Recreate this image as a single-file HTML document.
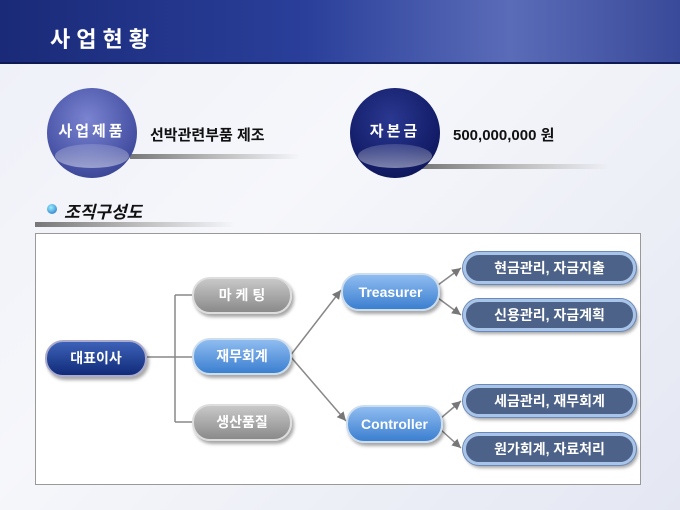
<!DOCTYPE html>
<html><head><meta charset="utf-8"><style>
body{margin:0;width:680px;height:510px;overflow:hidden;font-family:"Liberation Sans","Noto Sans CJK KR",sans-serif;background:linear-gradient(135deg,#eef0f8 0%,#f6f7fb 40%,#e4e7f2 100%);position:relative}
.a{position:absolute}
.hdr{left:0;top:0;width:680px;height:62px;background:linear-gradient(90deg,#1a2a78 0%,#2a3f9a 45%,#5a6cb8 75%,#3a4a9a 100%);border-bottom:2px solid #0e1a55}
.title{left:50px;top:22px;color:#fff;font-size:22px;font-weight:bold;letter-spacing:6px}
.circ{width:90px;height:90px;border-radius:50%;color:#fff;font-weight:bold;font-size:15px;text-align:center;line-height:88px;letter-spacing:3px;overflow:hidden}
.hl{position:absolute;left:8px;top:56px;width:74px;height:24px;border-radius:50%;background:linear-gradient(rgba(255,255,255,.15),rgba(255,255,255,.45))}
.bar{height:5px;background:linear-gradient(90deg,#777,#bbb,rgba(200,200,200,0))}
.n{border-radius:18px;text-align:center;font-size:14px;font-weight:bold;color:#fff;box-shadow:2px 3px 3px rgba(0,0,0,.35)}
.g{background:linear-gradient(#c8c8c8,#8a8a8a);border:2px solid #ddd}
.b{background:linear-gradient(#8fbcf0,#3b7fd0);border:2px solid #cde}
.d{background:linear-gradient(#3d62b8,#102a78);border:2px solid #aac}
.r{background:#4d6288;border:3px solid #a8c4e8;outline:1px solid #6a88b8;border-radius:16px}
</style></head><body>
<div class="a hdr"></div>
<div class="a title">사업현황</div>
<div class="a bar" style="left:130px;top:154px;width:170px"></div>
<div class="a circ" style="left:47px;top:88px;background:radial-gradient(circle at 45% 35%,#7a84d0,#4a55a8 60%,#2a3580)"><div class="hl"></div><span style="position:relative">사업제품</span></div>
<div class="a" style="left:150px;top:124px;font-size:15px;font-weight:bold;color:#111">선박관련부품 제조</div>
<div class="a bar" style="left:420px;top:164px;width:190px"></div>
<div class="a circ" style="left:350px;top:88px;background:radial-gradient(circle at 45% 35%,#2a3890,#141e6a 60%,#0a1048)"><div class="hl"></div><span style="position:relative">자본금</span></div>
<div class="a" style="left:453px;top:124px;font-size:15px;font-weight:bold;color:#111">500,000,000 원</div>
<div class="a" style="left:47px;top:204px;width:10px;height:10px;border-radius:50%;background:radial-gradient(circle at 40% 35%,#9ef,#1a6ac0)"></div>
<div class="a" style="left:64px;top:198px;font-size:17px;font-weight:bold;font-style:italic;color:#111">조직구성도</div>
<div class="a bar" style="left:35px;top:222px;width:200px"></div>
<div class="a" style="left:35px;top:233px;width:604px;height:250px;background:#fff;border:1px solid #999"></div>
<svg class="a" style="left:0;top:0" width="680" height="510">
<defs><marker id="m" markerWidth="8" markerHeight="8" refX="6" refY="3" orient="auto"><path d="M0,0L6,3L0,6z" fill="#777"/></marker></defs>
<g stroke="#888" stroke-width="1.5" fill="none">
<path d="M147,357H192M175,295V422M175,295H192M175,422H192"/>
<path d="M290,356L341,290" marker-end="url(#m)"/>
<path d="M290,356L346,421" marker-end="url(#m)"/>
<path d="M438,285L461,268" marker-end="url(#m)"/>
<path d="M438,298L461,315" marker-end="url(#m)"/>
<path d="M441,418L461,401" marker-end="url(#m)"/>
<path d="M441,430L461,448" marker-end="url(#m)"/>
</g></svg>
<div class="a n d" style="left:45px;top:340px;width:98px;height:33px;line-height:33px">대표이사</div>
<div class="a n g" style="left:192px;top:277px;width:96px;height:33px;line-height:33px">마 케 팅</div>
<div class="a n b" style="left:192px;top:338px;width:96px;height:33px;line-height:33px">재무회계</div>
<div class="a n g" style="left:192px;top:404px;width:96px;height:33px;line-height:33px">생산품질</div>
<div class="a n b" style="left:341px;top:273px;width:95px;height:34px;line-height:34px">Treasurer</div>
<div class="a n b" style="left:346px;top:405px;width:93px;height:34px;line-height:34px">Controller</div>
<div class="a n r" style="left:463px;top:252px;width:167px;height:26px;line-height:26px">현금관리, 자금지출</div>
<div class="a n r" style="left:463px;top:299px;width:167px;height:26px;line-height:26px">신용관리, 자금계획</div>
<div class="a n r" style="left:463px;top:385px;width:167px;height:26px;line-height:26px">세금관리, 재무회계</div>
<div class="a n r" style="left:463px;top:433px;width:167px;height:26px;line-height:26px">원가회계, 자료처리</div>
</body></html>
